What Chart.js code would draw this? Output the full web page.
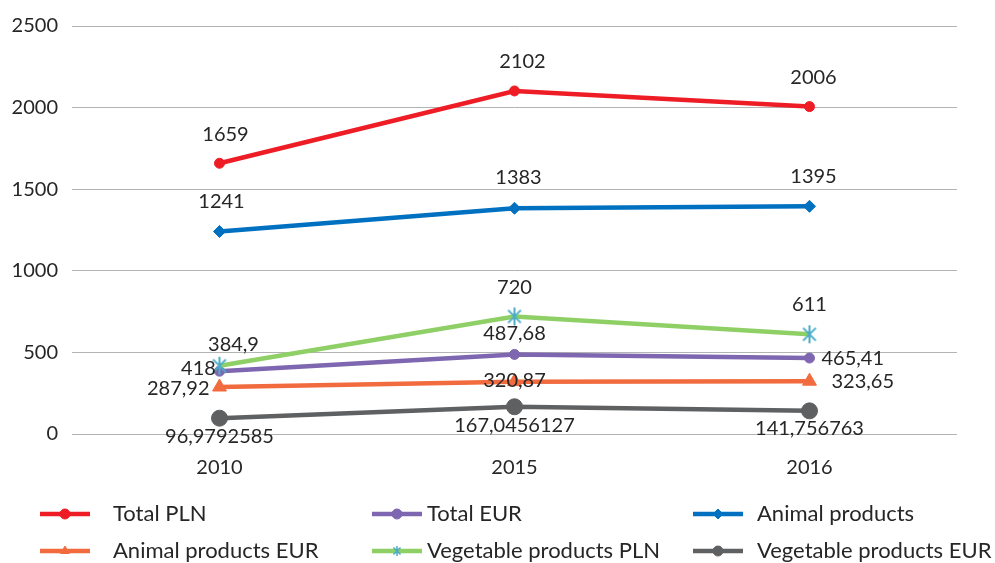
<!DOCTYPE html>
<html><head><meta charset="utf-8">
<script src="https://cdn.jsdelivr.net/npm/chart.js@4/dist/chart.umd.min.js"></script>
<style>html,body{margin:0;padding:0;background:#fff}#wrap{width:995px;height:563px;position:relative}</style>
</head><body><div id="wrap"><canvas id="c"></canvas></div>
<script>
const years = ['2010', '2015', '2016'];
const seriesNames = ['Total PLN', 'Total EUR', 'Animal products', 'Animal products EUR', 'Vegetable products PLN', 'Vegetable products EUR'];
const totalPLN = [1659, 2102, 2006];
const totalEUR = [384.9, 487.68, 465.41];
const animalPLN = [1241, 1383, 1395];
const animalEUR = [287.92, 320.87, 323.65];
const vegetablePLN = [418, 720, 611];
const vegetableEUR = [96.9792585, 167.0456127, 141.756763];
const yTicks = [0, 500, 1000, 1500, 2000, 2500];

const FONT = 'Lato, "Liberation Sans", sans-serif';

function makeAsterisk(size, color, lw) {
  const c = document.createElement('canvas');
  c.width = size; c.height = size;
  const g = c.getContext('2d');
  const m = size / 2, r = size / 2 - 1;
  g.strokeStyle = color; g.lineWidth = lw; g.lineCap = 'butt';
  g.beginPath();
  g.moveTo(m, m - r); g.lineTo(m, m + r);
  const d = r * Math.SQRT1_2;
  g.moveTo(m - d, m - d); g.lineTo(m + d, m + d);
  g.moveTo(m + d, m - d); g.lineTo(m - d, m + d);
  g.stroke();
  return c;
}
const asteriskBig = makeAsterisk(20, '#4bacc6', 2);
const asteriskSmall = makeAsterisk(12, '#4bacc6', 1.5);

const styles = [
  {color:'#ee1c25', point:'circle', r:5, border:'#ee1c25'},
  {color:'#7e67b0', point:'circle', r:5, border:'#7e67b0'},
  {color:'#0070c0', point:'rectRot', r:6, border:'#0070c0'},
  {color:'#f26b3f', point:'triangle', r:8, border:'#f26b3f'},
  {color:'#8fd066', point:asteriskBig, r:9, border:'#4bacc6'},
  {color:'#5f6062', point:'circle', r:8, border:'#5f6062'}
];
// label offsets [dx, dy, align] per point relative to the point
const labelPos = [
  [[6,-29,'center'],[8,-29,'center'],[4,-29,'center']],
  [[14,-27,'center'],[0,-21,'center'],[12,1,'left']],
  [[2,-30,'center'],[4,-31,'center'],[4,-30,'center']],
  [[-10,2,'right'],[0,-1,'center'],[22,0,'left']],
  [[-21,3,'center'],[0,-29,'center'],[0,-30,'center']],
  [[0,18,'center'],[0,19,'center'],[0,18,'center']]
];
const allData = [totalPLN, totalEUR, animalPLN, animalEUR, vegetablePLN, vegetableEUR];

const datasets = allData.map((d, i) => ({
  label: seriesNames[i],
  data: d,
  borderColor: styles[i].color,
  backgroundColor: styles[i].color,
  borderWidth: 4.5,
  pointStyle: styles[i].point,
  pointRadius: styles[i].r,
  pointHoverRadius: styles[i].r,
  pointBackgroundColor: styles[i].color,
  pointBorderColor: styles[i].border,
  pointBorderWidth: 1,
  tension: 0,
  order: 6 - i
}));

const fmt = v => String(v).replace('.', ',');

const labelPlugin = {
  id: 'labels',
  afterDatasetsDraw(chart) {
    const ctx = chart.ctx;
    ctx.save();
    ctx.font = '20px ' + FONT;
    ctx.fillStyle = '#262626';
    ctx.textBaseline = 'middle';
    chart.data.datasets.forEach((ds, i) => {
      const meta = chart.getDatasetMeta(i);
      meta.data.forEach((pt, j) => {
        const p = labelPos[i][j];
        ctx.textAlign = p[2];
        ctx.fillText(fmt(ds.data[j]), pt.x + p[0], pt.y + p[1]);
      });
    });
    ctx.restore();
  }
};

const legendCols = [[40, 113], [372, 427], [693, 757]];
const legendRows = [514, 551];
const legendPlugin = {
  id: 'customLegend',
  afterDraw(chart) {
    const ctx = chart.ctx;
    ctx.save();
    chart.data.datasets.forEach((ds, i) => {
      const col = legendCols[i % 3];
      const y = legendRows[Math.floor(i / 3)];
      const x0 = col[0], x1 = col[0] + 50;
      ctx.strokeStyle = ds.borderColor;
      ctx.lineWidth = 4.5;
      ctx.lineCap = 'butt';
      ctx.beginPath(); ctx.moveTo(x0, y); ctx.lineTo(x1, y); ctx.stroke();
      ctx.fillStyle = ds.pointBackgroundColor;
      ctx.strokeStyle = ds.pointBorderColor;
      ctx.lineWidth = ds.pointBorderWidth;
      const ps = ds.pointStyle === asteriskBig ? asteriskSmall : ds.pointStyle;
      Chart.helpers.drawPoint(ctx, {
        pointStyle: ps,
        radius: Math.min(ds.pointRadius, 5),
        rotation: 0,
        borderWidth: ds.pointBorderWidth
      }, (x0 + x1) / 2, y);
      ctx.fillStyle = '#262626';
      ctx.font = '22px ' + FONT;
      ctx.textAlign = 'left';
      ctx.textBaseline = 'middle';
      ctx.fillText(ds.label, col[1], y);
    });
    ctx.restore();
  }
};

new Chart(document.getElementById('c'), {
  type: 'line',
  data: { labels: years, datasets },
  options: {
    responsive: true,
    maintainAspectRatio: false,
    animation: false,
    layout: { padding: { top: 15, right: 38, bottom: 61, left: 0 } },
    plugins: { legend: { display: false }, tooltip: { enabled: false } },
    scales: {
      x: {
        offset: true,
        grid: { display: false, drawTicks: false },
        border: { display: false },
        ticks: { color: '#262626', font: { family: FONT, size: 20 }, padding: 22 }
      },
      y: {
        min: 0, max: 2500,
        afterBuildTicks(axis) { axis.ticks = yTicks.map(v => ({ value: v })); },
        afterFit(axis) { axis.width = 72; },
        grid: { color: '#b3b3b3', lineWidth: 1, drawTicks: false },
        border: { display: false },
        ticks: { color: '#262626', font: { family: FONT, size: 20 }, padding: 14, callback: v => String(v) }
      }
    }
  },
  plugins: [labelPlugin, legendPlugin]
});
</script></body></html>
